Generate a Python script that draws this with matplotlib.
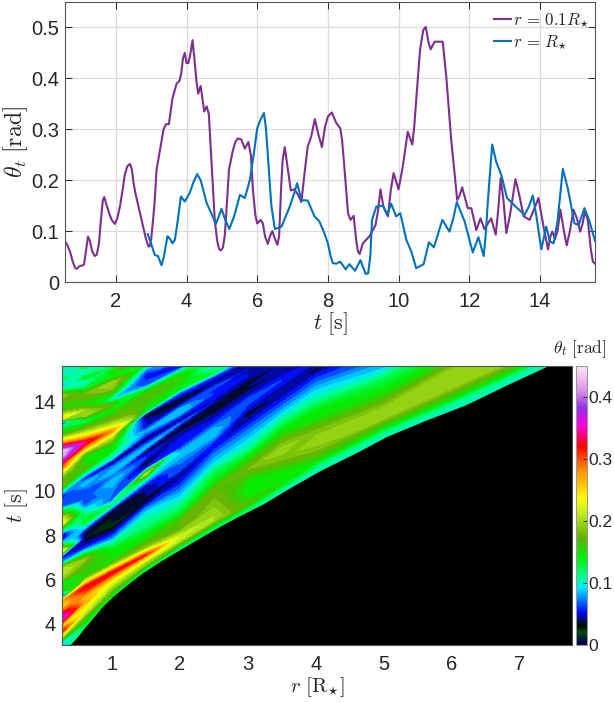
import numpy as np
import matplotlib
matplotlib.use("Agg")
import matplotlib.pyplot as plt
from matplotlib.colors import LinearSegmentedColormap, Normalize
from matplotlib.cm import ScalarMappable

plt.rcParams['font.family'] = ['Liberation Sans', 'DejaVu Sans']
plt.rcParams['mathtext.fontset'] = 'cm'

# ---- line data
t_inner = [0.56,0.63,0.7,0.78,0.85,0.9,0.95,1.0,1.05,1.1,1.15,1.21,1.26,1.33,1.4,1.46,1.52,1.58,1.63,1.67,1.72,1.8,1.88,1.97,2.04,2.12,2.2,2.25,2.32,2.4,2.45,2.5,2.55,2.7,2.85,2.92,2.96,3.0,3.05,3.1,3.15,3.25,3.35,3.42,3.5,3.6,3.72,3.8,3.85,3.9,3.95,4.0,4.05,4.1,4.17,4.22,4.28,4.33,4.4,4.45,4.5,4.57,4.63,4.72,4.8,4.87,4.92,4.97,5.03,5.08,5.12,5.2,5.3,5.38,5.45,5.55,5.65,5.75,5.82,5.88,5.95,6.0,6.1,6.16,6.22,6.3,6.36,6.43,6.5,6.57,6.62,6.68,6.72,6.78,6.85,6.95,7.05,7.15,7.25,7.34,7.43,7.53,7.63,7.72,7.83,7.92,8.0,8.11,8.24,8.35,8.4,8.45,8.57,8.64,8.73,8.8,8.85,8.9,8.99,9.18,9.35,9.42,9.49,9.57,9.7,9.78,9.86,10.0,10.12,10.26,10.39,10.45,10.5,10.61,10.7,10.77,10.85,10.91,11.02,11.25,11.35,11.49,11.66,11.73,11.8,11.96,12.06,12.2,12.32,12.43,12.53,12.62,12.75,12.82,12.89,12.97,13.05,13.15,13.31,13.42,13.54,13.71,13.85,13.96,14.1,14.23,14.3,14.35,14.43,14.5,14.58,14.68,14.76,14.85,14.95,15.05,15.14,15.21,15.28,15.36,15.44,15.5,15.56]
v_inner = [0.08,0.072,0.06,0.04,0.027,0.026,0.03,0.032,0.032,0.035,0.06,0.089,0.082,0.06,0.051,0.054,0.075,0.125,0.16,0.167,0.155,0.137,0.122,0.114,0.125,0.15,0.185,0.21,0.227,0.232,0.222,0.195,0.175,0.13,0.085,0.07,0.07,0.085,0.12,0.16,0.22,0.26,0.30,0.31,0.31,0.36,0.39,0.395,0.41,0.44,0.45,0.43,0.43,0.445,0.475,0.44,0.395,0.37,0.385,0.36,0.335,0.345,0.33,0.22,0.12,0.08,0.065,0.062,0.068,0.09,0.13,0.22,0.255,0.275,0.282,0.28,0.262,0.275,0.25,0.18,0.13,0.115,0.122,0.115,0.09,0.075,0.09,0.1,0.085,0.073,0.09,0.19,0.24,0.265,0.23,0.18,0.182,0.172,0.157,0.214,0.266,0.286,0.32,0.293,0.265,0.305,0.325,0.333,0.312,0.302,0.28,0.24,0.135,0.122,0.13,0.083,0.06,0.055,0.076,0.09,0.112,0.14,0.182,0.148,0.129,0.18,0.214,0.182,0.227,0.295,0.27,0.31,0.358,0.457,0.495,0.501,0.47,0.457,0.472,0.472,0.404,0.28,0.161,0.17,0.186,0.145,0.145,0.102,0.125,0.104,0.115,0.125,0.093,0.14,0.204,0.16,0.096,0.13,0.202,0.17,0.129,0.122,0.145,0.165,0.11,0.064,0.09,0.099,0.085,0.1,0.142,0.1,0.072,0.1,0.142,0.125,0.099,0.115,0.14,0.12,0.065,0.04,0.036]

t_star = [2.9,3.0,3.1,3.19,3.29,3.36,3.46,3.53,3.6,3.67,3.75,3.84,3.95,4.09,4.2,4.3,4.4,4.57,4.7,4.83,4.92,4.99,5.08,5.21,5.35,5.51,5.65,5.79,5.9,6.0,6.1,6.19,6.25,6.31,6.4,6.5,6.69,6.92,7.05,7.13,7.2,7.25,7.43,7.62,7.76,7.9,8.0,8.08,8.14,8.24,8.35,8.5,8.61,8.77,8.92,9.07,9.14,9.2,9.25,9.37,9.56,9.68,9.79,9.93,10.05,10.22,10.36,10.5,10.71,10.86,11.0,11.12,11.24,11.44,11.55,11.65,11.87,12.1,12.26,12.41,12.47,12.53,12.65,12.76,12.91,13.07,13.33,13.57,13.7,13.8,13.9,14.04,14.18,14.28,14.39,14.5,14.65,14.79,14.98,15.1,15.26,15.4,15.56]
v_star = [0.094,0.075,0.053,0.051,0.033,0.05,0.09,0.085,0.076,0.083,0.12,0.168,0.158,0.175,0.197,0.212,0.2,0.155,0.135,0.114,0.13,0.144,0.125,0.104,0.13,0.171,0.165,0.2,0.25,0.302,0.32,0.332,0.3,0.24,0.15,0.104,0.109,0.148,0.175,0.194,0.175,0.161,0.16,0.129,0.119,0.096,0.076,0.05,0.037,0.036,0.04,0.025,0.035,0.022,0.043,0.016,0.017,0.05,0.122,0.148,0.15,0.132,0.154,0.129,0.135,0.083,0.06,0.027,0.035,0.078,0.068,0.095,0.122,0.099,0.125,0.157,0.119,0.058,0.088,0.051,0.095,0.161,0.27,0.237,0.21,0.165,0.147,0.132,0.15,0.17,0.13,0.064,0.109,0.08,0.076,0.12,0.222,0.184,0.115,0.112,0.145,0.12,0.081]

# ---- map: radii of the table columns, launch labels of its rows
r_cols = [0.26,0.6,1,1.5,2,2.5,3,3.5,4,5,6,7.8]
guide_u = [2.75,4.95,6.9,9.3,11.9,15.7]
guide_t = [
    [2.55,3.65,4.90,6.20,7.20,8.05,8.80,9.75,10.65,12.25,13.55,16.10],
    [4.95,5.60,6.25,7.05,7.85,8.75,9.55,10.40,11.25,12.80,14.10,16.60],
    [6.90,7.55,8.20,9.40,10.65,11.90,13.00,13.90,14.80,16.20,17.50,20.00],
    [9.30,9.90,10.70,11.80,12.90,13.90,14.90,15.80,16.60,18.00,19.50,22.00],
    [11.90,12.30,12.80,13.70,14.50,15.20,15.90,16.60,17.30,19.00,20.50,23.00],
    [15.70,16.00,16.50,17.20,18.00,19.00,20.00,20.50,21.00,22.00,23.00,25.00],
]
edge_r = [0.20,0.38,0.5,0.6,0.72,0.85,1.0,1.22,1.45,1.7,2.0,2.44,2.8,3.22,3.6,4.06,4.65,5.04,5.6,6.2,6.8,7.4,7.8]
edge_t = [2.40,3.05,3.45,3.85,4.27,4.75,5.2,5.76,6.3,6.8,7.35,8.14,8.75,9.4,10.1,10.9,11.8,12.44,13.15,13.86,14.75,15.6,16.2]
u_rows = [2.75,3.0,3.25,3.5,3.75,4.0,4.25,4.5,4.75,5.0,5.25,5.5,5.75,6.0,6.25,6.5,6.75,7.0,7.25,7.5,7.75,8.0,8.25,8.5,8.75,9.0,9.25,9.5,9.75,10.0,10.25,10.5,10.75,11.0,11.25,11.5,11.75,12.0,12.25,12.5,12.75,13.0,13.25,13.5,13.75,14.0,14.25,14.5,14.75,15.0,15.25,15.5,15.7]
theta_map = [
 [14,11,11,11,11,11,11,11,11,11,11,11],
 [ 9,12,11,11,11,11,11,11,11,11,11,11],
 [ 8,15,13,12,11,11,11,11,11,11,11,11],
 [20,18,15,13,12,12,11,11,11,11,11,11],
 [32,22,18,16,14,13,12,11,11,11,11,11],
 [25,24,20,19,17,15,13,12,11,11,11,11],
 [38,27,22,20,18,17,15,13,12,12,12,12],
 [33,26,24,23,20,19,17,14,12,12,12,12],
 [24,30,28,25,21,20,16,15,13,13,13,13],
 [27,33,33,31,22,20,15,15,15,15,15,15],
 [ 3,22,22,19,17,19,14,15,18,20,19,20],
 [16,15,15,16,17,18,15,18,20,19,20,20],
 [12,16,15,14,13,17,18,20,18,16,19,20],
 [19,17,14,12,11,14,15,17,15,14,15,19],
 [21,19,12,11, 9,12,11,14,14,12,13,15],
 [20,13, 8,10, 7, 9, 9,11,11, 9,12,12],
 [ 8, 6, 5, 7, 5, 7, 7, 8, 9, 7,11,11],
 [ 5, 4, 3, 3, 4, 5, 5, 6, 7, 6,10,10],
 [25, 3, 3, 4, 7, 6, 4, 5, 6, 5, 9, 9],
 [14, 4, 3, 4, 7, 8, 3, 4, 5, 5, 8, 8],
 [ 5,10, 3, 5, 8, 9, 5, 5, 3, 5, 8, 8],
 [ 4,14,12,10, 9, 8, 6, 5, 5, 5, 8, 8],
 [14,12, 6,21, 6, 6, 7, 6, 5, 5, 8, 8],
 [24,10, 7, 5, 6, 5, 5, 5, 5, 6, 8, 8],
 [22, 6, 8, 3, 5, 4, 4, 4, 5, 6, 8, 8],
 [15, 6, 9, 6, 4, 4, 4, 5, 5, 6, 8, 8],
 [ 7, 7, 7, 3, 3, 3, 3, 4, 5, 6, 8, 8],
 [ 6, 7, 9, 9, 7, 5, 4, 5, 5, 6, 8, 8],
 [ 5, 9, 7, 6, 3, 5, 5, 5, 5, 6, 8, 8],
 [12, 5, 3, 3, 6, 6, 5, 5, 5, 6, 8, 8],
 [19,11,10, 6, 9, 6, 5, 5, 5, 6, 8, 8],
 [17,17,12, 8, 9, 5, 5, 5, 5, 6, 8, 8],
 [21,15,15, 5, 6, 7, 5, 5, 5, 6, 8, 8],
 [29,14,15, 5, 3, 5, 5, 5, 5, 6, 8, 8],
 [33,19,19, 4, 3, 4, 5, 5, 5, 6, 8, 8],
 [42,28,22, 3, 5, 5, 5, 5, 5, 6, 8, 8],
 [44,34,28,14, 7, 6, 5, 5, 5, 6, 8, 8],
 [33,26,22,15,14,13, 8, 5, 5, 6, 8, 8],
 [24,20,18,16,15,10, 8, 5, 5, 6, 8, 8],
 [16,16,16,17,16,10, 8, 5, 5, 6, 8, 8],
 [14,11,14,15,14,10, 8, 5, 5, 6, 8, 8],
 [ 3,20,17, 7, 6,10, 8, 5, 5, 6, 8, 8],
 [25,20, 9, 6, 5,10, 8, 5, 5, 6, 8, 8],
 [19,15,15, 5,10,10, 8, 5, 5, 6, 8, 8],
 [14,16,19, 7,10,10, 8, 5, 5, 6, 8, 8],
 [17,18,20,12,10,10, 8, 5, 5, 6, 8, 8],
 [20,13,14,14,10,10, 8, 5, 5, 6, 8, 8],
 [12, 9,15,22,10,10, 8, 5, 5, 6, 8, 8],
 [ 7,14,12,14,10,10, 8, 5, 5, 6, 8, 8],
 [13, 9,12,14,10,10, 8, 5, 5, 6, 8, 8],
 [ 8,13,12,14,10,10, 8, 5, 5, 6, 8, 8],
 [12,11,12,14,10,10, 8, 5, 5, 6, 8, 8],
 [10,11,12,14,10,10, 8, 5, 5, 6, 8, 8],
]

x_ticks_top = [2,4,6,8,10,12,14]
y_ticks_top = [0,0.1,0.2,0.3,0.4,0.5]
y_labels_top = ['0','0.1','0.2','0.3','0.4','0.5']
x_ticks_map = [1,2,3,4,5,6,7]
y_ticks_map = [4,6,8,10,12,14]
cb_ticks = [0,0.1,0.2,0.3,0.4]
cb_labels = ['0','0.1','0.2','0.3','0.4']

W, H = 614, 702
def box(l, t, r, b):
    return [l/W, 1-b/H, (r-l)/W, (b-t)/H]

INK = '#262626'
EDGE = '#555555'
fig = plt.figure(figsize=(W/100, H/100), dpi=100)

# ---- top panel
ax = fig.add_axes(box(65, 2, 595, 282))
ax.plot(t_inner, v_inner, color='#7E2F8E', lw=1.5, label=r'$r\,=\,0.1R_{\star}$')
ax.plot(t_star, v_star, color='#0072BD', lw=1.5, label=r'$r\,=\,R_{\star}$')
ax.set_xlim(0.56, 15.56)
ax.set_ylim(0, 0.55)
ax.set_xticks(x_ticks_top)
ax.set_yticks(y_ticks_top, y_labels_top)
ax.grid(True, color='#dcdcdc', lw=0.9)
ax.set_axisbelow(True)
ax.tick_params(direction='in', length=5, width=0.7, colors=INK, labelsize=14.5, top=True, right=True)
ax.tick_params(axis='y', pad=4)
ax.tick_params(axis='x', pad=7)
for s in ax.spines.values():
    s.set_color(EDGE); s.set_linewidth(0.8)
ax.set_xlabel(r'$t\ [\mathrm{s}]$', fontsize=16, color=INK, labelpad=0)
ax.set_ylabel(r'$\theta_t\ [\mathrm{rad}]$', fontsize=17, color=INK)
ax.yaxis.set_label_coords((30-65)/530, 0.5)
leg = ax.legend(loc='upper right', frameon=False, fontsize=12.2, handlelength=1.0, handletextpad=0.1,
                labelspacing=0.2, bbox_to_anchor=(0.998, 0.985), borderaxespad=0.1, borderpad=0.2)
for tx in leg.get_texts():
    tx.set_color(INK)

# ---- colour scale
cs_val = [0,0.003,0.02,0.03,0.04,0.052,0.07,0.092,0.11,0.142,0.172,0.213,0.237,0.26,0.282,0.32,0.355,0.382,0.41,0.45]
cs_col = ['#00004a','#00004a','#004a10','#000806','#001060','#0000ff','#0070ff','#00e8ff','#00ff90','#00f000','#60b000','#c0f020','#ffff00','#ffc000','#ff9000','#ff0000','#ff00e0','#9030e8','#e090e8','#fbeaf8']
cmap = LinearSegmentedColormap.from_list('theta', [(v/0.45, c) for v, c in zip(cs_val, cs_col)], N=512)
norm = Normalize(0, 0.45)

# ---- map panel
ax2 = fig.add_axes(box(62, 365.7, 571.7, 645))
ax2.set_facecolor('black')
gt = np.array(guide_t)
T = np.column_stack([np.interp(u_rows, guide_u, gt[:, j]) for j in range(len(r_cols))])
R = np.tile(np.array(r_cols), (len(u_rows), 1))
Z = np.array(theta_map) / 100.0
ax2.contourf(R, T, Z, levels=np.linspace(0, 0.45, 46), cmap=cmap, norm=norm, antialiased=False)
ax2.fill_between(edge_r, 0, edge_t, color='black', lw=0, zorder=3)
ax2.set_xlim(0.265, 7.76)
ax2.set_ylim(3.05, 15.62)
ax2.set_xticks(x_ticks_map)
ax2.set_yticks(y_ticks_map)
ax2.tick_params(direction='in', length=0, colors=INK, labelsize=14.5)
ax2.tick_params(axis='y', pad=4.5)
ax2.tick_params(axis='x', pad=7)
for s in ax2.spines.values():
    s.set_color(EDGE); s.set_linewidth(0.8); s.set_zorder(5)
ax2.set_xlabel(r'$r\ [\mathrm{R}_{\star}]$', fontsize=15, color=INK, labelpad=1)
ax2.set_ylabel(r'$t\ [\mathrm{s}]$', fontsize=16, color=INK)
ax2.yaxis.set_label_coords((30-62)/509.7, 0.5)

cax = fig.add_axes(box(576, 365.7, 586.7, 645))
cb = fig.colorbar(ScalarMappable(norm=norm, cmap=cmap), cax=cax)
cb.set_ticks(cb_ticks, labels=cb_labels)
cb.ax.tick_params(direction='in', length=3, width=0.7, colors=INK, labelsize=12.5, pad=1.5)
cb.outline.set_edgecolor('#999999')
fig.text(580/W, 1-349/H, r'$\theta_t\ [\mathrm{rad}]$', fontsize=12.5, color=INK, ha='center', va='center')

fig.savefig('out.png', dpi=100)
